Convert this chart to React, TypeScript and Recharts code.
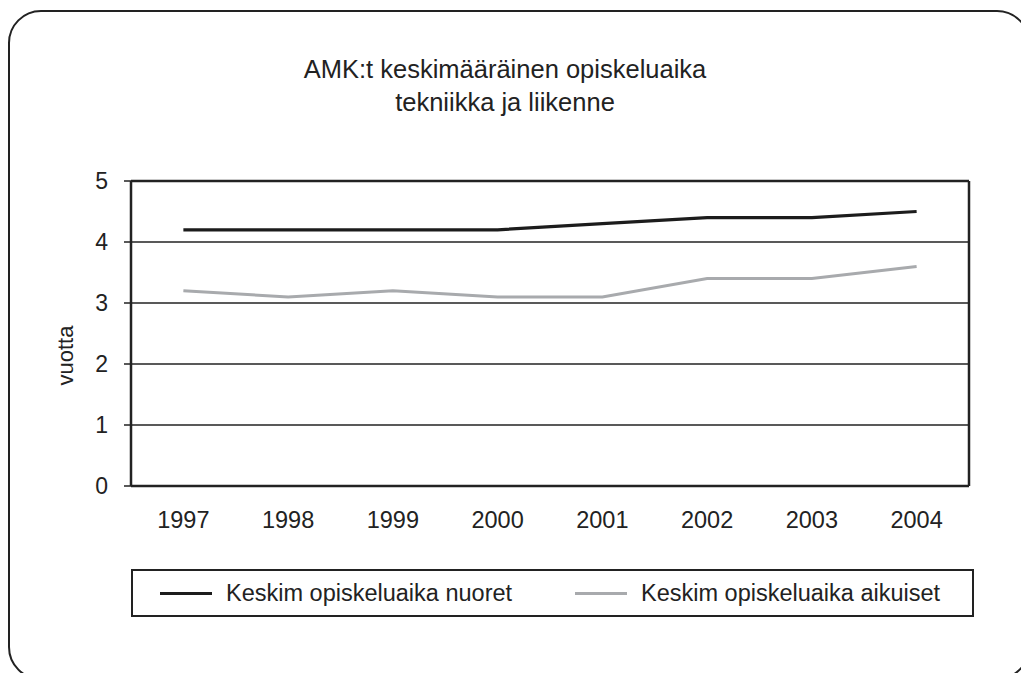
import React from 'react'
import { LineChart, Line, XAxis, YAxis, CartesianGrid, Legend, ReferenceLine } from 'recharts'

const years = ['1997', '1998', '1999', '2000', '2001', '2002', '2003', '2004']
const nuoret = [4.2, 4.2, 4.2, 4.2, 4.3, 4.4, 4.4, 4.5]
const aikuiset = [3.2, 3.1, 3.2, 3.1, 3.1, 3.4, 3.4, 3.6]
const yTicks = [0, 1, 2, 3, 4, 5]

const seriesOrder = ['nuoret', 'aikuiset']
const seriesNames = {
  nuoret: 'Keskim opiskeluaika nuoret',
  aikuiset: 'Keskim opiskeluaika aikuiset'
}

const data = years.map((year, i) => ({ idx: i, year, nuoret: nuoret[i], aikuiset: aikuiset[i] }))
const labelTicks = years.map((_, i) => i)
// ticks sit between categories, like Excel
const boundaryTicks = [...years.map((_, i) => i - 0.5), years.length - 0.5]

const ink = '#222'
const font = '"Liberation Sans", Arial, Helvetica, sans-serif'

const LegendBox = (props: any) => {
  const payload = [...(props.payload || [])].sort(
    (a: any, b: any) => seriesOrder.indexOf(a.dataKey) - seriesOrder.indexOf(b.dataKey)
  )
  return (
    <div
      style={{
        boxSizing: 'border-box',
        width: '100%',
        height: '100%',
        border: `2px solid ${ink}`,
        display: 'flex',
        alignItems: 'center',
        fontSize: 23.5,
        color: ink,
        fontFamily: font
      }}
    >
      {payload.map((item: any, i: number) => (
        <div
          key={item.value}
          style={{
            display: 'flex',
            alignItems: 'center',
            boxSizing: 'border-box',
            paddingLeft: i === 0 ? 27 : 0,
            width: i === 0 ? 442 : undefined
          }}
        >
          <span style={{ display: 'inline-block', width: 52, height: 3, background: item.color, marginRight: 14 }} />
          <span>{item.value}</span>
        </div>
      ))}
    </div>
  )
}

export default function App() {
  return (
    <div
      style={{
        position: 'absolute',
        left: 0,
        top: 0,
        width: 1021,
        height: 673,
        overflow: 'hidden',
        background: '#fff',
        fontFamily: font,
        color: ink
      }}
    >
      {/* rounded frame, runs off the right and bottom edges */}
      <div
        style={{
          position: 'absolute',
          left: 8,
          top: 10,
          width: 1022,
          height: 670,
          boxSizing: 'border-box',
          border: `2.5px solid ${ink}`,
          borderRadius: 33
        }}
      />
      <div
        style={{
          position: 'absolute',
          left: 205,
          top: 53,
          width: 600,
          textAlign: 'center',
          fontSize: 25.5,
          lineHeight: '33px'
        }}
      >
        AMK:t keskimääräinen opiskeluaika
        <br />
        tekniikka ja liikenne
      </div>
      <div style={{ position: 'absolute', left: 0, top: 0 }}>
        <LineChart
          width={1021}
          height={673}
          data={data}
          margin={{ top: 181, right: 52, left: 50, bottom: 147 }}
        >
          <CartesianGrid horizontal vertical={false} stroke={ink} strokeWidth={1.5} />
          <XAxis
            xAxisId="ticks"
            dataKey="idx"
            type="number"
            domain={[-0.5, years.length - 0.5]}
            ticks={boundaryTicks}
            interval={0}
            tick={false}
            tickSize={7}
            tickLine={{ stroke: ink, strokeWidth: 1.5 }}
            axisLine={false}
            height={0}
          />
          <XAxis
            xAxisId="labels"
            dataKey="idx"
            type="number"
            domain={[-0.5, years.length - 0.5]}
            ticks={labelTicks}
            interval={0}
            tickFormatter={(i: number) => years[i]}
            tick={{ fill: ink, fontSize: 23.5 }}
            tickLine={false}
            tickSize={6}
            tickMargin={19}
            axisLine={{ stroke: ink, strokeWidth: 2.5 }}
            height={40}
          />
          <YAxis
            domain={[0, 5]}
            ticks={yTicks}
            interval={0}
            width={81}
            tick={{ fill: ink, fontSize: 23 }}
            tickSize={7}
            tickMargin={16}
            tickLine={{ stroke: ink, strokeWidth: 1.5 }}
            axisLine={{ stroke: ink, strokeWidth: 2.5 }}
            label={{
              value: 'vuotta',
              angle: -90,
              position: 'insideLeft',
              offset: 15,
              dy: 22,
              fill: ink,
              fontSize: 22,
              style: { textAnchor: 'middle' }
            }}
          />
          {/* right and top edges of the plot frame */}
          <ReferenceLine xAxisId="labels" x={years.length - 0.5} stroke={ink} strokeWidth={2.5} />
          <ReferenceLine xAxisId="labels" y={5} stroke={ink} strokeWidth={2.5} />
          <Legend
            layout="horizontal"
            verticalAlign="middle"
            align="center"
            content={<LegendBox />}
            wrapperStyle={{ left: 131, top: 569, width: 843, height: 48 }}
          />
          <Line
            xAxisId="labels"
            dataKey="nuoret"
            name={seriesNames.nuoret}
            stroke="#1c1c1c"
            strokeWidth={3.2}
            dot={false}
            activeDot={false}
            legendType="line"
            isAnimationActive={false}
          />
          <Line
            xAxisId="labels"
            dataKey="aikuiset"
            name={seriesNames.aikuiset}
            stroke="#a8aaad"
            strokeWidth={3}
            dot={false}
            activeDot={false}
            legendType="line"
            isAnimationActive={false}
          />
        </LineChart>
      </div>
    </div>
  )
}
